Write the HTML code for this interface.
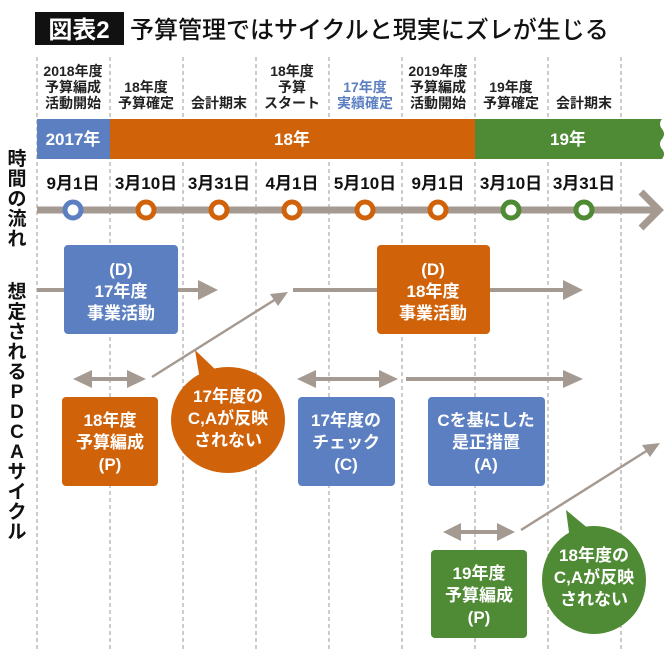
<!DOCTYPE html>
<html><head><meta charset="utf-8"><style>
body{margin:0;background:#fff}
svg text{font-family:"Liberation Sans","Noto Sans CJK JP",sans-serif;font-weight:bold}
</style></head><body>
<svg width="670" height="661" viewBox="0 0 670 661" xmlns="http://www.w3.org/2000/svg">
<defs>
<marker id="ah" markerWidth="4" markerHeight="4" refX="2" refY="2" orient="auto" markerUnits="strokeWidth"><path d="M0,0 L4,2 L0,4 z" fill="#a59a91"/></marker>
</defs>
<rect x="35" y="12" width="89" height="33" fill="#111"/>
<text x="79" y="38" font-size="24" fill="#fff" text-anchor="middle">図表2</text>
<text x="130" y="38" font-size="24" fill="#111" font-weight="normal" style="font-weight:500">予算管理ではサイクルと現実にズレが生じる</text>
<g stroke="#999" stroke-width="1" stroke-dasharray="4,3">
<line x1="37" y1="57" x2="37" y2="650"/><line x1="110" y1="57" x2="110" y2="650"/><line x1="183" y1="57" x2="183" y2="650"/><line x1="256" y1="57" x2="256" y2="650"/><line x1="329" y1="57" x2="329" y2="650"/><line x1="402" y1="57" x2="402" y2="650"/><line x1="475" y1="57" x2="475" y2="650"/><line x1="548" y1="57" x2="548" y2="650"/><line x1="621" y1="57" x2="621" y2="650"/>
</g>
<g font-size="14" text-anchor="middle" fill="#222" style="font-weight:500">
<text x="73" y="76">2018年度</text><text x="73" y="92">予算編成</text><text x="73" y="108">活動開始</text>
<text x="146" y="92">18年度</text><text x="146" y="108">予算確定</text>
<text x="219" y="108">会計期末</text>
<text x="292" y="76">18年度</text><text x="292" y="92">予算</text><text x="292" y="108">スタート</text>
<text x="365" y="92" fill="#5b7fc0">17年度</text><text x="365" y="108" fill="#5b7fc0">実績確定</text>
<text x="438" y="76">2019年度</text><text x="438" y="92">予算編成</text><text x="438" y="108">活動開始</text>
<text x="511" y="92">19年度</text><text x="511" y="108">予算確定</text>
<text x="584" y="108">会計期末</text>
</g>
<rect x="37" y="119" width="73" height="40" fill="#5b7fc0"/>
<rect x="110" y="119" width="365" height="40" fill="#d0620a"/>
<path d="M475,119 H662 q-4,5 0,10 q4,5 0,10 q-4,5 0,10 q4,5 0,10 H475z" fill="#4f8a35"/>
<g fill="#fff" font-size="17" text-anchor="middle"><text x="73" y="145">2017年</text><text x="292" y="145">18年</text><text x="568" y="145">19年</text></g>
<g fill="#111" font-size="17" text-anchor="middle">
<text x="73" y="189">9月1日</text><text x="146" y="189">3月10日</text><text x="219" y="189">3月31日</text><text x="292" y="189">4月1日</text><text x="365" y="189">5月10日</text><text x="438" y="189">9月1日</text><text x="511" y="189">3月10日</text><text x="584" y="189">3月31日</text>
</g>
<line x1="37" y1="210" x2="656" y2="210" stroke="#a59a91" stroke-width="7"/>
<polyline points="641,192 659,210 641,228" fill="none" stroke="#a59a91" stroke-width="7"/>
<g fill="#fff" stroke-width="5">
<circle cx="73" cy="210" r="8" stroke="#5b7fc0"/>
<circle cx="146" cy="210" r="8" stroke="#d0620a"/><circle cx="219" cy="210" r="8" stroke="#d0620a"/><circle cx="292" cy="210" r="8" stroke="#d0620a"/><circle cx="365" cy="210" r="8" stroke="#d0620a"/><circle cx="438" cy="210" r="8" stroke="#d0620a"/>
<circle cx="511" cy="210" r="8" stroke="#4f8a35"/><circle cx="584" cy="210" r="8" stroke="#4f8a35"/>
</g>
<g font-size="19" fill="#111" text-anchor="middle">
<text x="17" y="165">時</text><text x="17" y="185">間</text><text x="17" y="205">の</text><text x="17" y="225">流</text><text x="17" y="245">れ</text>
<text x="17" y="298">想</text><text x="17" y="318">定</text><text x="17" y="338">さ</text><text x="17" y="358">れ</text><text x="17" y="378">る</text><text x="17" y="398">P</text><text x="17" y="418">D</text><text x="17" y="438">C</text><text x="17" y="458">A</text><text x="17" y="478">サ</text><text x="17" y="498">イ</text><text x="17" y="518">ク</text><text x="17" y="538">ル</text>
</g>
<g stroke="#a59a91" stroke-width="4" fill="none">
<line x1="37" y1="290" x2="200" y2="290"/><line x1="293" y1="290" x2="565" y2="290"/>
<line x1="90" y1="379" x2="130" y2="379"/><line x1="314" y1="379" x2="382" y2="379"/><line x1="406" y1="379" x2="565" y2="379"/>
<line x1="459" y1="532" x2="499" y2="532"/>
<line x1="152" y1="377" x2="276" y2="299" stroke-width="2.5"/>
<line x1="521" y1="530" x2="648" y2="450" stroke-width="2.5"/>
</g>
<g fill="#a59a91">
<path d="M198,280 L218,290 L198,300z"/><path d="M563,280 L583,290 L563,300z"/>
<path d="M73,379 L92,370 L92,388z"/><path d="M146,379 L127,370 L127,388z"/>
<path d="M297,379 L316,370 L316,388z"/><path d="M398,379 L379,370 L379,388z"/>
<path d="M563,370 L583,379 L563,388z"/>
<path d="M443,532 L461,523 L461,541z"/><path d="M515,532 L497,523 L497,541z"/>
<path d="M288,292 L270,294 L278,306z"/><path d="M660,443 L642,445 L650,457z"/>
</g>
<rect x="64" y="245" width="114" height="89" rx="4" fill="#5b7fc0"/>
<rect x="377" y="245" width="113" height="89" rx="4" fill="#d0620a"/>
<rect x="62" y="397" width="96" height="89" rx="4" fill="#d0620a"/>
<rect x="298" y="397" width="97" height="89" rx="4" fill="#5b7fc0"/>
<rect x="428" y="397" width="117" height="89" rx="4" fill="#5b7fc0"/>
<rect x="431" y="550" width="96" height="88" rx="4" fill="#4f8a35"/>
<path d="M195,350 L218,372 L200,380z" fill="#d0620a"/>
<ellipse cx="228" cy="420" rx="57" ry="53" fill="#d0620a"/>
<path d="M566,510 L590,530 L570,540z" fill="#4f8a35"/>
<ellipse cx="594" cy="580" rx="52" ry="54" fill="#4f8a35"/>
<g fill="#fff" font-size="17" text-anchor="middle">
<text x="121" y="275">(D)</text><text x="121" y="297">17年度</text><text x="121" y="319">事業活動</text>
<text x="433" y="275">(D)</text><text x="433" y="297">18年度</text><text x="433" y="319">事業活動</text>
<text x="110" y="426">18年度</text><text x="110" y="448">予算編成</text><text x="110" y="470">(P)</text>
<text x="346" y="426">17年度の</text><text x="346" y="448">チェック</text><text x="346" y="470">(C)</text>
<text x="486" y="426">Cを基にした</text><text x="486" y="448">是正措置</text><text x="486" y="470">(A)</text>
<text x="479" y="579">19年度</text><text x="479" y="601">予算編成</text><text x="479" y="623">(P)</text>
<text x="228" y="402">17年度の</text><text x="228" y="424">C,Aが反映</text><text x="228" y="446">されない</text>
<text x="594" y="561">18年度の</text><text x="594" y="583">C,Aが反映</text><text x="594" y="605">されない</text>
</g>
</svg>
</body></html>
